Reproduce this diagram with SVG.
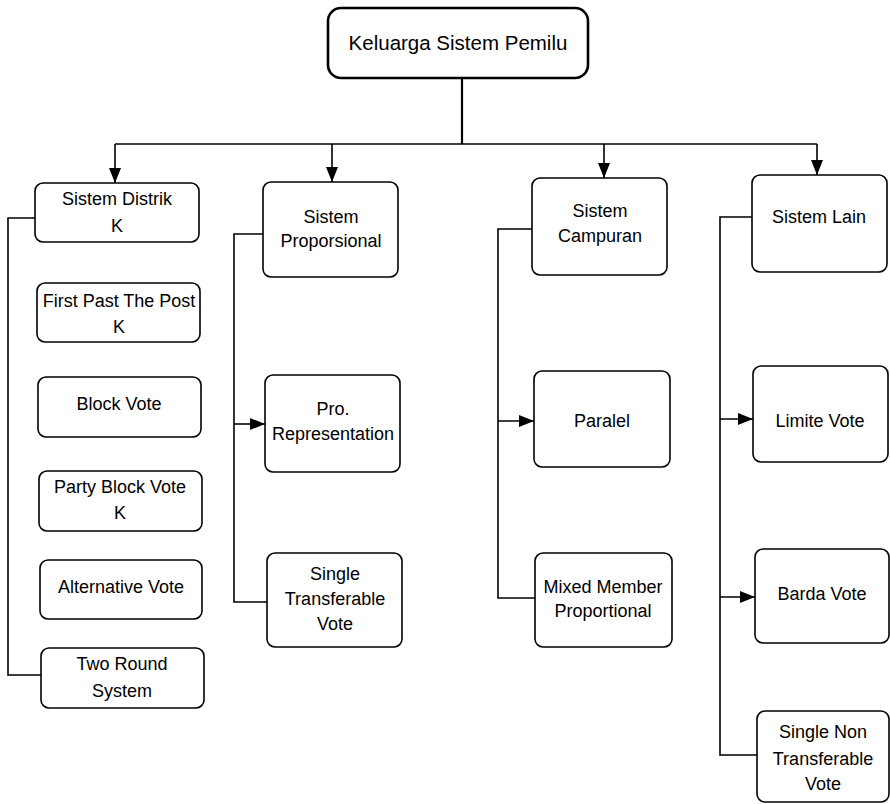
<svg xmlns="http://www.w3.org/2000/svg" width="890" height="804" viewBox="0 0 890 804">
  <style>
    .box { fill: #ffffff; stroke: #000000; stroke-width: 1.6; }
    .root { fill: #ffffff; stroke: #000000; stroke-width: 2.6; }
    .lbl { font-family: "Liberation Sans", Arial, sans-serif; font-size: 18px; fill: #000000; text-anchor: middle; }
    .rootlbl { font-family: "Liberation Sans", Arial, sans-serif; font-size: 20.5px; fill: #000000; text-anchor: middle; }
    .wire { fill: none; stroke: #000000; stroke-width: 1.6; }
    .trunk { fill: none; stroke: #000000; stroke-width: 2.2; }
  </style>
  <defs>
    <marker id="arrow" markerUnits="userSpaceOnUse" markerWidth="15" markerHeight="12" refX="15" refY="6" orient="auto">
      <path d="M0,0 L15,6 L0,12 Z" fill="#000000"/>
    </marker>
  </defs>
  <rect width="890" height="804" fill="#ffffff"/>

  <g id="connectors">
    <!-- root to bus -->
    <path class="trunk" d="M462,78 V144"/>
    <path class="wire" d="M115,144 H817"/>
    <path class="wire" d="M115,144 V183" marker-end="url(#arrow)"/>
    <path class="wire" d="M332,144 V182" marker-end="url(#arrow)"/>
    <path class="wire" d="M604,144 V178" marker-end="url(#arrow)"/>
    <path class="wire" d="M817,144 V175" marker-end="url(#arrow)"/>
    <!-- Sistem Distrik branch -->
    <path class="wire" d="M35,218 H8 V675 H41"/>
    <!-- Sistem Proporsional branch -->
    <path class="wire" d="M263,234 H234 V602 H267"/>
    <path class="wire" d="M234,424 H265" marker-end="url(#arrow)"/>
    <!-- Sistem Campuran branch -->
    <path class="wire" d="M532,229 H498 V598 H535"/>
    <path class="wire" d="M498,421 H534" marker-end="url(#arrow)"/>
    <!-- Sistem Lain branch -->
    <path class="wire" d="M752,217 H720 V755 H757"/>
    <path class="wire" d="M720,419 H753" marker-end="url(#arrow)"/>
    <path class="wire" d="M720,597 H755" marker-end="url(#arrow)"/>
  </g>

  <g id="root">
    <rect class="root" x="328" y="8" width="260" height="70" rx="13"/>
    <text class="rootlbl" x="458" y="50">Keluarga Sistem Pemilu</text>
  </g>

  <!-- column 1 -->
  <g id="sistem-distrik">
    <rect class="box" x="35" y="183" width="164" height="59" rx="8"/>
    <text class="lbl" x="117" y="205">Sistem Distrik</text>
    <text class="lbl" x="117" y="232">K</text>
  </g>
  <g id="fptp">
    <rect class="box" x="37" y="283" width="163" height="59" rx="8"/>
    <text class="lbl" x="119" y="307">First Past The Post</text>
    <text class="lbl" x="119" y="333">K</text>
  </g>
  <g id="block-vote">
    <rect class="box" x="38" y="377" width="163" height="60" rx="8"/>
    <text class="lbl" x="119" y="410">Block Vote</text>
  </g>
  <g id="party-block-vote">
    <rect class="box" x="39" y="471" width="163" height="60" rx="8"/>
    <text class="lbl" x="120" y="493">Party Block Vote</text>
    <text class="lbl" x="120" y="519">K</text>
  </g>
  <g id="alternative-vote">
    <rect class="box" x="40" y="560" width="162" height="59" rx="8"/>
    <text class="lbl" x="121" y="593">Alternative Vote</text>
  </g>
  <g id="two-round">
    <rect class="box" x="41" y="648" width="163" height="60" rx="8"/>
    <text class="lbl" x="122" y="670">Two Round</text>
    <text class="lbl" x="122" y="697">System</text>
  </g>

  <!-- column 2 -->
  <g id="sistem-proporsional">
    <rect class="box" x="263" y="182" width="135" height="95" rx="8"/>
    <text class="lbl" x="331" y="223">Sistem</text>
    <text class="lbl" x="331" y="247">Proporsional</text>
  </g>
  <g id="pro-representation">
    <rect class="box" x="265" y="375" width="135" height="97" rx="8"/>
    <text class="lbl" x="333" y="415">Pro.</text>
    <text class="lbl" x="333" y="440">Representation</text>
  </g>
  <g id="stv">
    <rect class="box" x="267" y="553" width="135" height="94" rx="8"/>
    <text class="lbl" x="335" y="580">Single</text>
    <text class="lbl" x="335" y="605">Transferable</text>
    <text class="lbl" x="335" y="630">Vote</text>
  </g>

  <!-- column 3 -->
  <g id="sistem-campuran">
    <rect class="box" x="532" y="178" width="135" height="97" rx="8"/>
    <text class="lbl" x="600" y="217">Sistem</text>
    <text class="lbl" x="600" y="242">Campuran</text>
  </g>
  <g id="paralel">
    <rect class="box" x="534" y="371" width="136" height="96" rx="8"/>
    <text class="lbl" x="602" y="427">Paralel</text>
  </g>
  <g id="mmp">
    <rect class="box" x="535" y="553" width="137" height="94" rx="8"/>
    <text class="lbl" x="603" y="593">Mixed Member</text>
    <text class="lbl" x="603" y="617">Proportional</text>
  </g>

  <!-- column 4 -->
  <g id="sistem-lain">
    <rect class="box" x="752" y="175" width="135" height="97" rx="8"/>
    <text class="lbl" x="819" y="223">Sistem Lain</text>
  </g>
  <g id="limite-vote">
    <rect class="box" x="753" y="366" width="135" height="96" rx="8"/>
    <text class="lbl" x="820" y="427">Limite Vote</text>
  </g>
  <g id="barda-vote">
    <rect class="box" x="755" y="549" width="134" height="94" rx="8"/>
    <text class="lbl" x="822" y="600">Barda Vote</text>
  </g>
  <g id="sntv">
    <rect class="box" x="757" y="711" width="132" height="91" rx="8"/>
    <text class="lbl" x="823" y="738">Single Non</text>
    <text class="lbl" x="823" y="765">Transferable</text>
    <text class="lbl" x="823" y="790">Vote</text>
  </g>
</svg>
